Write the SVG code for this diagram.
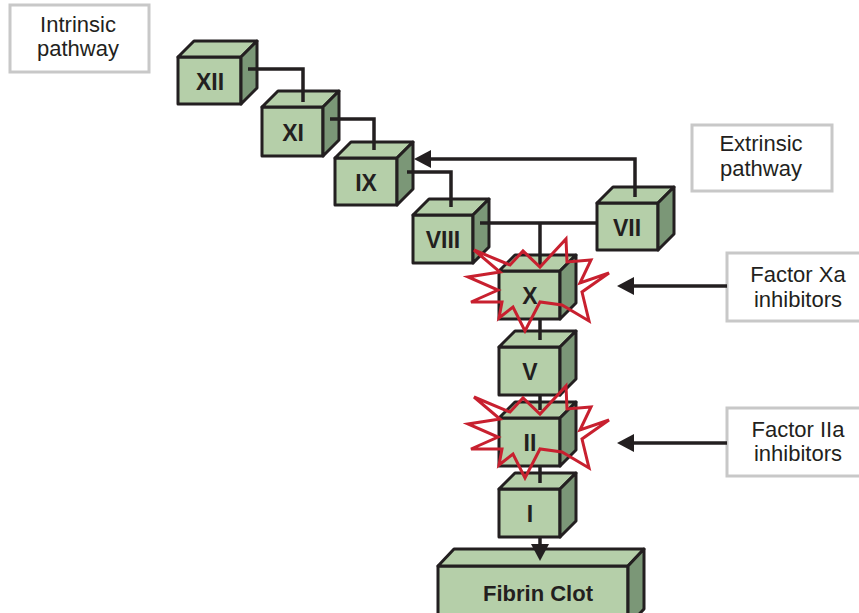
<svg xmlns="http://www.w3.org/2000/svg" width="859" height="613" viewBox="0 0 859 613">
<style>
.f{fill:#b5cfa9;stroke:#231f20;stroke-width:3;stroke-linejoin:round}
.s{fill:#7b9777;stroke:#231f20;stroke-width:3;stroke-linejoin:round}
.t{font-family:"Liberation Sans",Arial,sans-serif;font-weight:bold;font-size:23px;fill:#231f20;text-anchor:middle}
.c{fill:none;stroke:#231f20;stroke-width:3.5}
.b{fill:#fff;stroke:#c8c8c8;stroke-width:3}
.l{font-family:"Liberation Sans",Arial,sans-serif;font-size:22px;fill:#231f20;text-anchor:middle}
.st{fill:none;stroke:#c8202f;stroke-width:3;stroke-linejoin:miter}
.ah{fill:#231f20}
</style>
<defs>
<polygon id="star" points="474,250 510,265 523,251 540,267 566,239 567,262 591,260 580,283 609,273 582,292 589,321 562,305 540,302 525,331 513,307 499,318 502,302 471,302 498,290 468,277 500,272"/>
</defs>
<g id="intrinsic"><rect class="b" x="10" y="5" width="139" height="67"/><text class="l" x="78" y="32">Intrinsic</text><text class="l" x="78" y="56">pathway</text></g>
<g id="extrinsic"><rect class="b" x="692" y="125" width="140" height="66"/><text class="l" x="761" y="151">Extrinsic</text><text class="l" x="761" y="176">pathway</text></g>
<g id="xa-inh"><rect class="b" x="727" y="253" width="145" height="68"/><text class="l" x="798" y="282">Factor Xa</text><text class="l" x="798" y="307">inhibitors</text></g>
<g id="iia-inh"><rect class="b" x="727" y="408" width="145" height="68"/><text class="l" x="798" y="437">Factor IIa</text><text class="l" x="798" y="461">inhibitors</text></g>

<g id="XII"><rect class="f" x="178" y="57" width="63" height="47"/><polygon class="f" points="178,57 194,41 257,41 241,57"/><polygon class="s" points="241,57 257,41 257,88 241,104"/><text class="t" x="210" y="90">XII</text></g>
<g id="XI"><rect class="f" x="262" y="107" width="61" height="49"/><polygon class="f" points="262,107 278,91 339,91 323,107"/><polygon class="s" points="323,107 339,91 339,140 323,156"/><text class="t" x="293" y="141">XI</text></g>
<g id="IX"><rect class="f" x="335" y="158" width="62" height="47"/><polygon class="f" points="335,158 351,142 413,142 397,158"/><polygon class="s" points="397,158 413,142 413,189 397,205"/><text class="t" x="366" y="191">IX</text></g>
<g id="VIII"><rect class="f" x="413" y="215" width="60" height="48"/><polygon class="f" points="413,215 429,199 489,199 473,215"/><polygon class="s" points="473,215 489,199 489,247 473,263"/><text class="t" x="443" y="248">VIII</text></g>
<g id="VII"><rect class="f" x="597" y="203" width="61" height="47"/><polygon class="f" points="597,203 613,187 674,187 658,203"/><polygon class="s" points="658,203 674,187 674,234 658,250"/><text class="t" x="627" y="236">VII</text></g>
<g id="X"><rect class="f" x="499" y="271" width="61" height="48"/><polygon class="f" points="499,271 515,255 576,255 560,271"/><polygon class="s" points="560,271 576,255 576,303 560,319"/><text class="t" x="530" y="304">X</text></g>
<g id="V"><rect class="f" x="499" y="347" width="61" height="48"/><polygon class="f" points="499,347 515,331 576,331 560,347"/><polygon class="s" points="560,347 576,331 576,379 560,395"/><text class="t" x="530" y="380">V</text></g>
<g id="II"><rect class="f" x="499" y="418" width="61" height="48"/><polygon class="f" points="499,418 515,402 576,402 560,418"/><polygon class="s" points="560,418 576,402 576,450 560,466"/><text class="t" x="530" y="451">II</text></g>
<g id="I"><rect class="f" x="499" y="489" width="61" height="48"/><polygon class="f" points="499,489 515,473 576,473 560,489"/><polygon class="s" points="560,489 576,473 576,521 560,537"/><text class="t" x="530" y="522">I</text></g>
<g id="fibrin"><rect class="f" x="438" y="566" width="190" height="60"/><polygon class="f" points="438,566 454,549 644,549 628,566"/><polygon class="s" points="628,566 644,549 644,609 628,626"/><text class="t" x="538" y="601" style="font-size:22px">Fibrin Clot</text></g>

<g id="connectors">
<polyline class="c" points="248,69 303,69 303,102"/>
<polyline class="c" points="330,119 374,119 374,150"/>
<polyline class="c" points="407,172 451,172 451,207"/>
<polyline class="c" points="635,197 635,159 428,159"/>
<polygon class="ah" points="414,159 431,150 431,168"/>
<line class="c" x1="480" y1="223" x2="597" y2="223"/>
<line class="c" x1="540" y1="223" x2="540" y2="267"/>
<line class="c" x1="540" y1="319" x2="540" y2="340"/>
<line class="c" x1="540" y1="395" x2="540" y2="410"/>
<line class="c" x1="540" y1="466" x2="540" y2="483"/>
<line class="c" x1="540" y1="537" x2="540" y2="547"/>
<polygon class="ah" points="540,561 531,544 549,544"/>
<line class="c" x1="727" y1="286" x2="632" y2="286"/>
<polygon class="ah" points="617,286 634,277 634,295"/>
<line class="c" x1="727" y1="443" x2="632" y2="443"/>
<polygon class="ah" points="617,443 634,434 634,452"/>
</g>
<g id="bursts">
<use href="#star" class="st"/>
<use href="#star" class="st" transform="translate(0,147)"/>
</g>
</svg>
